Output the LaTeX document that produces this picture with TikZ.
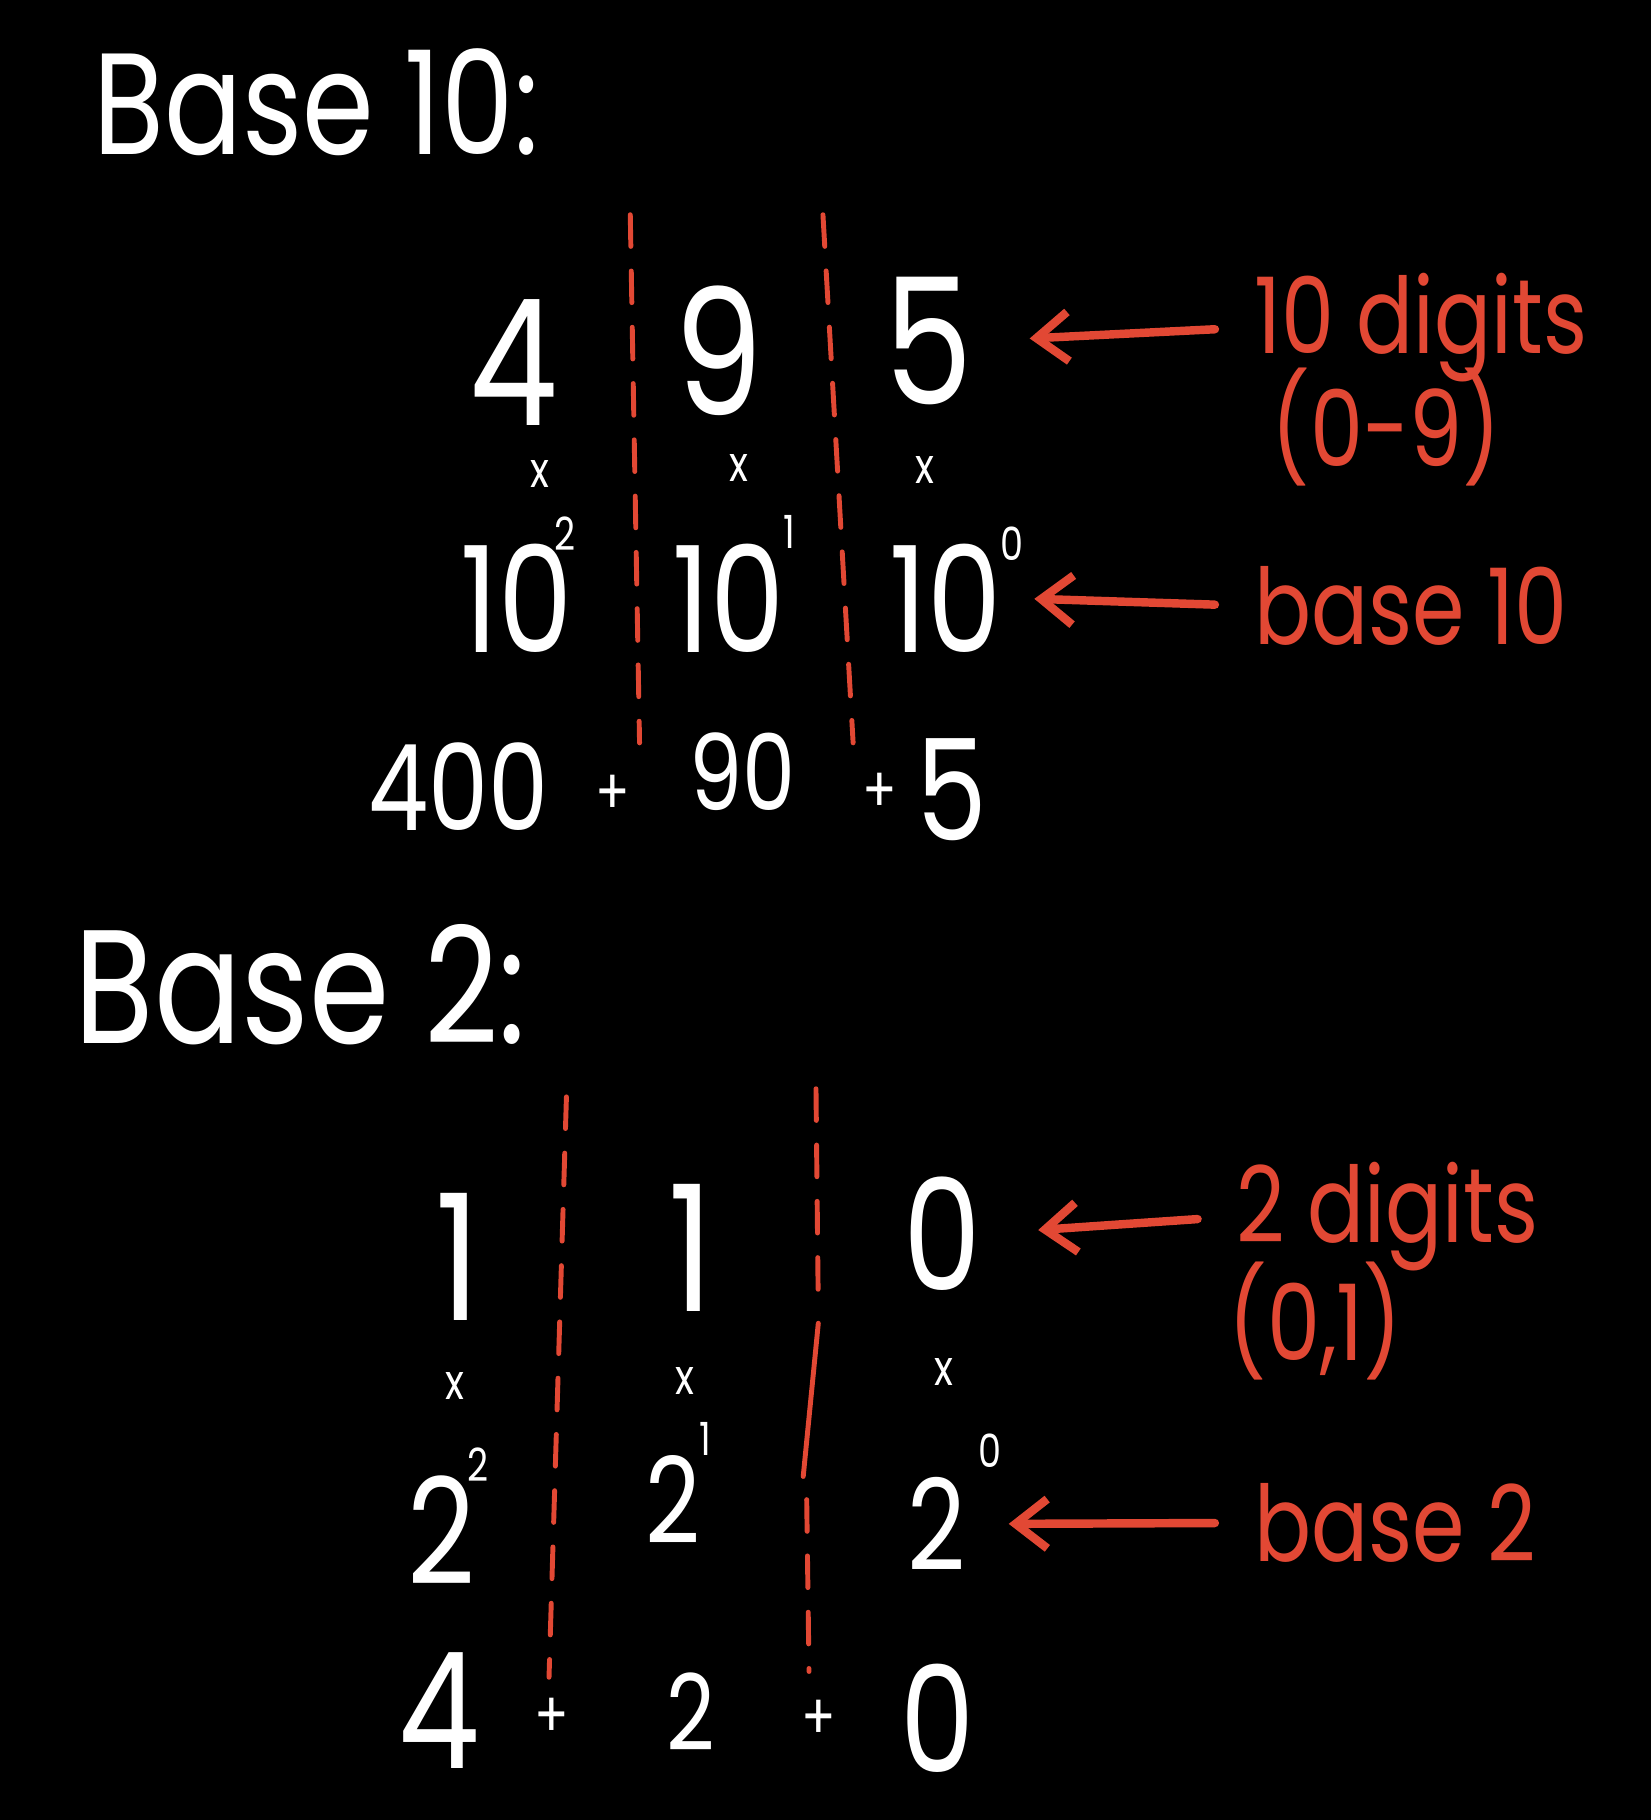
\documentclass[tikz,border=0pt]{standalone}
\usepackage{fontspec}
\setmainfont{Poppins}[FakeStretch=0.8]
\usetikzlibrary{arrows.meta,positioning}
\definecolor{inkred}{RGB}{226,72,52}

\begin{document}
\begin{tikzpicture}[
    x=0.011603cm, y=-0.011603cm,
    ink/.style={text=white, inner sep=0pt},
    title/.style={ink, anchor=west, font=\fontsize{41}{45}\selectfont},
    digit/.style={ink, font=\fontsize{50}{54}\selectfont},
    power/.style={ink, font=\fontsize{42}{46}\selectfont},
    expo/.style={ink, font=\fontsize{13}{15}\selectfont},
    times/.style={ink, font=\fontsize{14}{16}\selectfont},
    sumnum/.style={ink, font=\fontsize{34}{38}\selectfont},
    plus/.style={ink, font=\fontsize{18}{20}\selectfont},
    note/.style={text=inkred, inner sep=0pt, anchor=west, font=\fontsize{30}{32}\selectfont},
    divider/.style={inkred, line width=1.4pt, line cap=round, dash pattern=on 9pt off 7pt},
    pointer/.style={inkred, line width=2.4pt, line cap=round, -{Straight Barb[length=9pt,width=14pt]}, shorten <=11pt}
]

% Background
\fill[black] (0,0) rectangle (1422,1568);
\useasboundingbox (0,0) rectangle (1422,1568);

% Top: base 10
\node[title] (titleten) at (80,88) {Base 10:};

\node[digit] (d4) at (443,312) {4};
\node[digit] (d9) at (619,302) {9};
\node[digit] (d5) at (800,294) {5};

\node[times] (xa) at (465,408) {x};
\node[times] (xb) at (637,403) {x};
\node[times] (xc) at (797,405) {x};

\node[power] (pa) at (445,515) {10};
\node[power] (pb) at (628,515) {10};
\node[power] (pc) at (815,515) {10};
\node[expo] (ea) at (487,460) {2};
\node[expo] (eb) at (680,458) {1};
\node[expo] (ec) at (872,468) {0};

\node[sumnum] (sa) at (395,678) {400};
\node[plus] (pla) at (528,685) {+};
\node[sumnum, font=\fontsize{30}{32}\selectfont] (sb) at (640,665) {90};
\node[plus] (plb) at (758,683) {+};
\node[sumnum, font=\fontsize{40}{42}\selectfont] (sc) at (820,680) {5};

\draw[divider] (543,185) -- (551,640);
\draw[divider] (709,185) -- (735,640);

% Right: notes for base 10
\node[note] (digitsten) at (1080,282) {10 digits};
\node[note] (rangeten) at (1095,368) {(0-9)};
\node[note] (baseten) at (1080,522) {base 10};

\draw[pointer, shorten >=16pt] (digitsten.west) -- (d5.east);
\draw[pointer, shorten >=9pt] (baseten.west) -- (pc.east);

% Bottom: base 2
\node[title, font=\fontsize{46}{50}\selectfont] (titletwo) at (64,848) {Base 2:};

\node[digit] (ba) at (395,1083) {1};
\node[digit] (bb) at (595,1075) {1};
\node[digit, font=\fontsize{44}{48}\selectfont] (bc) at (812,1063) {0};

\node[times] (ya) at (392,1194) {x};
\node[times] (yb) at (590,1190) {x};
\node[times] (yc) at (813,1182) {x};

\node[power] (qa) at (380,1318) {2};
\node[power, font=\fontsize{34}{38}\selectfont] (qb) at (580,1292) {2};
\node[power, font=\fontsize{36}{40}\selectfont] (qc) at (807,1313) {2};
\node[expo] (fa) at (412,1262) {2};
\node[expo] (fb) at (608,1240) {1};
\node[expo] (fc) at (853,1250) {0};

\node[digit, font=\fontsize{46}{50}\selectfont] (ta) at (378,1474) {4};
\node[plus] (plc) at (475,1480) {+};
\node[sumnum, font=\fontsize{30}{32}\selectfont] (tb) at (595,1475) {2};
\node[plus] (pld) at (705,1482) {+};
\node[power] (tc) at (808,1480) {0};

\draw[divider] (488,945) -- (473,1445);
\draw[divider] (703,938) -- (705,1128);
\draw[inkred, line width=1.4pt, line cap=round] (705,1140) -- (692,1272);
\draw[divider] (695,1292) -- (697,1440);

% Right: notes for base 2
\node[note] (digitstwo) at (1065,1048) {2 digits};
\node[note] (rangetwo) at (1058,1138) {(0,1)};
\node[note] (basetwo) at (1080,1312) {base 2};

\draw[pointer, shorten >=16pt] (digitstwo.west) -- (bc.east);
\draw[pointer, shorten >=12pt] (basetwo.west) -- (qc.east);

\end{tikzpicture}
\end{document}
